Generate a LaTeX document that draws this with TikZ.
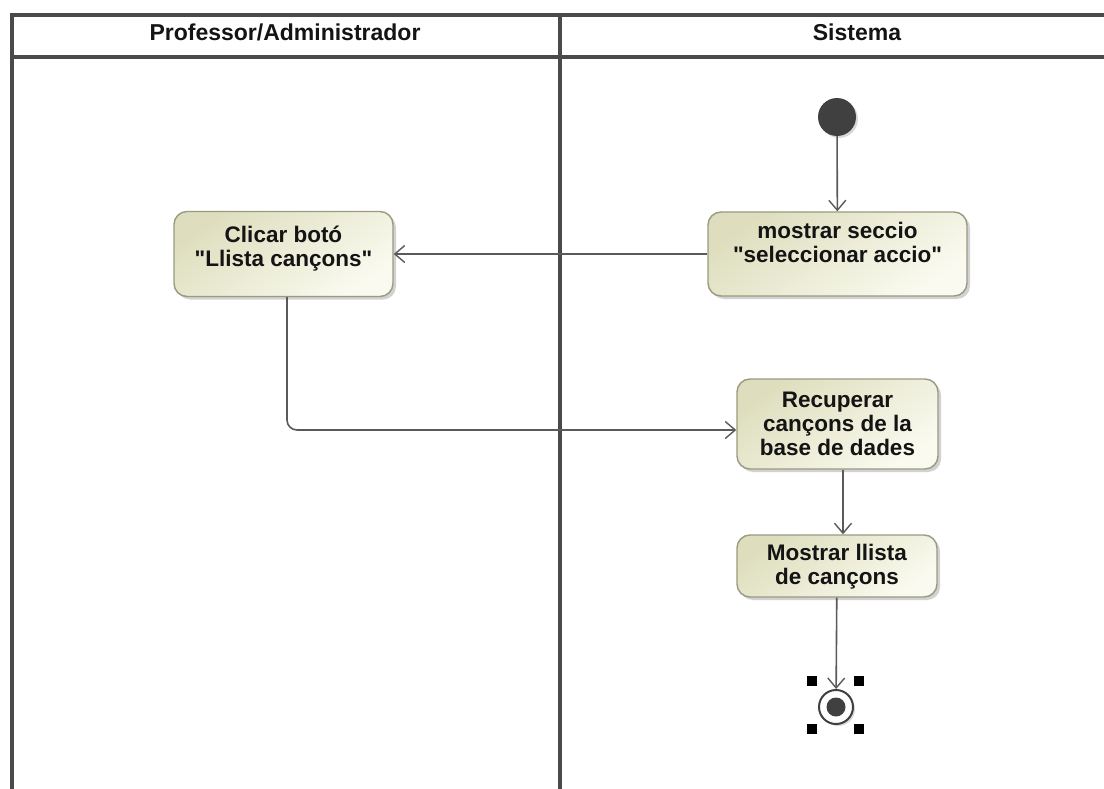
\documentclass[tikz,border=0pt]{standalone}
\usepackage{fontspec}
\setmainfont{Liberation Sans}
\usetikzlibrary{arrows.meta,shadows}
\definecolor{frameline}{HTML}{4A4A4A}
\definecolor{edgeline}{HTML}{5A5A5A}
\definecolor{actborder}{HTML}{9A9A80}
\definecolor{acttop}{HTML}{DEDEBE}
\definecolor{actbottom}{HTML}{FAFAF0}
\definecolor{dot}{HTML}{404040}
\definecolor{txt}{HTML}{141414}
\tikzset{
  lane/.style={draw=frameline, line width=3.4pt},
  lanetitle/.style={anchor=base, text=txt, font=\bfseries\fontsize{23}{27}\selectfont, inner sep=0pt},
  action/.style={draw=actborder, line width=1.4pt, rounded corners=13pt,
    top color=acttop, bottom color=actbottom, shading angle=35,
    drop shadow={opacity=0.35, shadow xshift=3pt, shadow yshift=-3pt},
    inner sep=0pt, align=center, text=txt,
    font=\bfseries\fontsize{22.5}{24}\selectfont},
  startnode/.style={circle, fill=dot, minimum size=38pt, inner sep=0pt,
    drop shadow={opacity=0.3, shadow xshift=2pt, shadow yshift=-2pt}},
  endnode/.style={circle, draw=dot, line width=2pt, fill=white, minimum size=34pt, inner sep=0pt,
    drop shadow={opacity=0.3, shadow xshift=2pt, shadow yshift=-2pt}},
  flow/.style={draw=edgeline, line width=1.6pt, -{Straight Barb[length=10pt,width=17pt,line width=1.4pt]}},
  handle/.style={fill=black}
}
\begin{document}
\begin{tikzpicture}[x=1pt,y=-1pt]
\useasboundingbox (0,0) rectangle (1104,789);
\fill[white] (0,0) rectangle (1104,789);

% swimlane frame
\draw[lane] (12,789) -- (12,15) -- (1110,15);
\draw[lane] (12,57) -- (1110,57);
\draw[lane] (560,15) -- (560,789);
\node[lanetitle] (laneA) at (285,41) {Professor/Administrador};
\node[lanetitle] (laneB) at (857,41) {Sistema};

% actions (extra text depth lifts the label towards the top edge)
\node[action, minimum width=219pt, minimum height=85pt, text depth=15pt] (clicar) at (283.5,254) {Clicar botó\\\textquotedbl Llista cançons\textquotedbl};
\node[action, minimum width=259pt, minimum height=84pt, text depth=23pt] (seccio) at (837.5,254) {mostrar seccio\\\textquotedbl seleccionar accio\textquotedbl};
\node[action, minimum width=201pt, minimum height=90pt] (recup) at (837.5,424) {Recuperar\\cançons de la\\base de dades};
\node[action, minimum width=200pt, minimum height=62pt, text depth=3pt] (llista) at (837,566) {Mostrar llista\\de cançons};

% initial and final nodes
\node[startnode] (init) at (837,117) {};
\node[endnode] (final) at (836,707) {};
\fill[dot] (final.center) circle (9.5pt);

% selection handles round the final node
\fill[handle] (807,676) rectangle (817,686);
\fill[handle] (854,676) rectangle (864,686);
\fill[handle] (807,724) rectangle (817,734);
\fill[handle] (854,724) rectangle (864,734);

% control flows
\draw[flow] (init) -- (seccio);
\draw[flow] (seccio.west) -- (clicar.east);
\draw[flow, rounded corners=10pt] ([xshift=3.5pt]clicar.south) |- ([yshift=-6pt]recup.west);
\draw[flow] ([xshift=5.5pt]recup.south) -- ([xshift=5.5pt]recup.south |- llista.north);
\draw[flow] (llista) -- (final);
\end{tikzpicture}
\end{document}
